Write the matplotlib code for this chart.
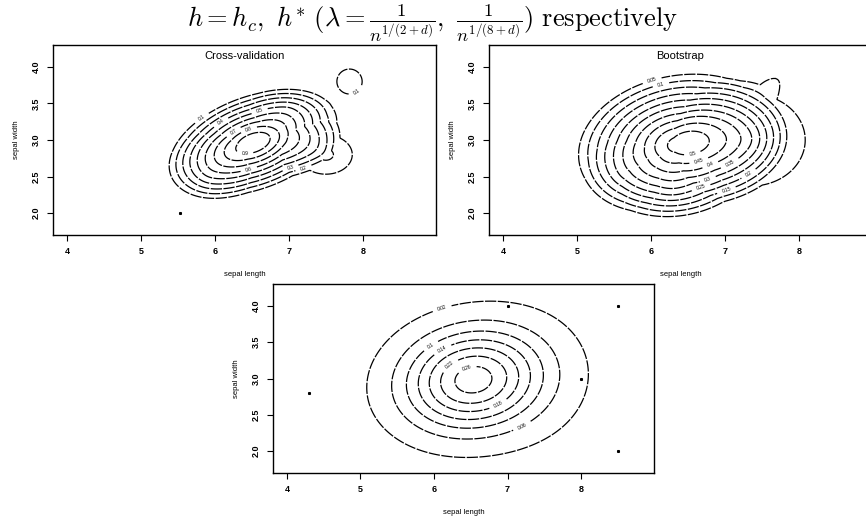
import numpy as np
import matplotlib
matplotlib.use("Agg")
import matplotlib.pyplot as plt

plt.rcParams["mathtext.fontset"] = "cm"
plt.rcParams["font.family"] = ["Liberation Sans", "DejaVu Sans"]

# Density surfaces are sums of elliptical bumps:
# centre x, centre y, radius/spread x, radius/spread y, correlation, height
cv_cx = [6.52, 7.50, 7.00, 5.90, 7.82]
cv_cy = [2.96, 2.80, 3.45, 2.50, 3.80]
cv_sx = [1.25, 0.60, 0.55, 0.60, 0.42]
cv_sy = [0.80, 0.45, 0.30, 0.60, 0.42]
cv_rho = [0.40, 0.0, 0.0, 0.0, 0.0]
cv_h = [1.00, 0.22, 0.08, 0.10, 0.15]
cv_levels = [0.1, 0.2, 0.3, 0.4, 0.5, 0.6, 0.7, 0.8, 0.9]

bs_cx = [6.38, 7.35, 7.70, 5.60, 6.30]
bs_cy = [2.94, 3.00, 3.85, 2.50, 2.30]
bs_sx = [1.50, 1.05, 0.50, 0.50, 0.70]
bs_sy = [1.06, 0.90, 0.30, 0.50, 0.50]
bs_rho = [0.15, 0.0, 0.0, 0.0, 0.0]
bs_h = [0.52, 0.15, 0.05, 0.03, 0.05]
bs_levels = [0.05, 0.10, 0.15, 0.20, 0.25, 0.30, 0.35, 0.40, 0.45, 0.50]

op_cx = [6.50, 7.30]
op_cy = [2.98, 3.00]
op_sx = [0.62, 0.60]
op_sy = [0.46, 0.60]
op_rho = [0.1, 0.0]
op_h = [0.27, 0.025]
op_levels = [0.02, 0.06, 0.10, 0.14, 0.18, 0.22, 0.26]

# isolated points drawn in the lower panel and the first panel
op_pts_x = [4.3, 7.0, 8.0, 8.5, 8.5]
op_pts_y = [2.8, 4.0, 3.0, 4.0, 2.0]
cv_pts_x = [5.53]
cv_pts_y = [2.0]

x_ticks = [4, 5, 6, 7, 8]
y_ticks = [2.0, 2.5, 3.0, 3.5, 4.0]
XLIM = (3.81, 8.99)
YLIM = (1.70, 4.30)
TIP = 0.15  # rounding of the cone-shaped bumps


def dist2(X, Y, a, b, s, t, r):
    u = (X - a) / s
    v = (Y - b) / t
    return (u * u - 2 * r * u * v + v * v) / (1 - r * r)


def cone_surface(cx, cy, sx, sy, rho, h, X, Y):
    Z = np.zeros_like(X)
    for a, b, s, t, r, k in zip(cx, cy, sx, sy, rho, h):
        q = dist2(X, Y, a, b, s, t, r)
        Z += k * np.clip(1 - np.sqrt(q + TIP ** 2), 0, None) / (1 - TIP)
    return Z


def gauss_surface(cx, cy, sx, sy, rho, h, X, Y):
    Z = np.zeros_like(X)
    for a, b, s, t, r, k in zip(cx, cy, sx, sy, rho, h):
        Z += k * np.exp(-0.5 * dist2(X, Y, a, b, s, t, r))
    return Z


gx = np.linspace(3.8, 9.0, 500)
gy = np.linspace(1.7, 4.3, 350)
X, Y = np.meshgrid(gx, gy)

fig = plt.figure(figsize=(8.66, 5.19), dpi=100)


def panel(rect, Z, levels, title=None, pts=None):
    ax = fig.add_axes(rect)
    cs = ax.contour(X, Y, Z, levels=levels, colors="black", linewidths=0.9,
                    linestyles=[(0, (9, 1.2))])
    ax.clabel(cs, levels, inline=True, fontsize=3.5, fmt="%g")
    if pts is not None:
        ax.plot(pts[0], pts[1], "s", color="black", markersize=1.2)
    ax.set_xlim(*XLIM)
    ax.set_ylim(*YLIM)
    ax.set_xticks(x_ticks)
    ax.set_xticklabels([str(v) for v in x_ticks])
    ax.set_yticks(y_ticks)
    ax.set_yticklabels([f"{v:.1f}" for v in y_ticks], rotation=90, va="center")
    ax.tick_params(axis="both", direction="out", length=4, width=0.8,
                   labelsize=6.5, colors="black")
    ax.tick_params(axis="x", pad=4.5)
    ax.tick_params(axis="y", pad=5)
    for lab in ax.get_xticklabels() + ax.get_yticklabels():
        lab.set_fontweight("bold")
    for sp in ax.spines.values():
        sp.set_linewidth(1.0)
    ax.set_xlabel("sepal length", fontsize=5.5, labelpad=11)
    ax.set_ylabel("sepal width", fontsize=5.5, labelpad=8)
    if title:
        ax.text(0.5, 0.97, title, transform=ax.transAxes, ha="center",
                va="top", fontsize=8)
    return ax


panel([0.0612, 0.5472, 0.4423, 0.3661],
      cone_surface(cv_cx, cv_cy, cv_sx, cv_sy, cv_rho, cv_h, X, Y),
      cv_levels, "Cross-validation", (cv_pts_x, cv_pts_y))
panel([0.5647, 0.5472, 0.4423, 0.3661],
      cone_surface(bs_cx, bs_cy, bs_sx, bs_sy, bs_rho, bs_h, X, Y),
      bs_levels, "Bootstrap")
panel([0.3152, 0.0886, 0.4400, 0.3642],
      gauss_surface(op_cx, op_cy, op_sx, op_sy, op_rho, op_h, X, Y),
      op_levels, None, (op_pts_x, op_pts_y))

fig.text(0.5, 0.955,
         r"$h = h_c,\ h^{*}\ (\lambda = \frac{1}{n^{1/(2+d)}},\ \frac{1}{n^{1/(8+d)}})$"
         r"$\ \mathrm{respectively}$",
         ha="center", va="center", fontsize=19)

fig.savefig("out.png", dpi=100)
